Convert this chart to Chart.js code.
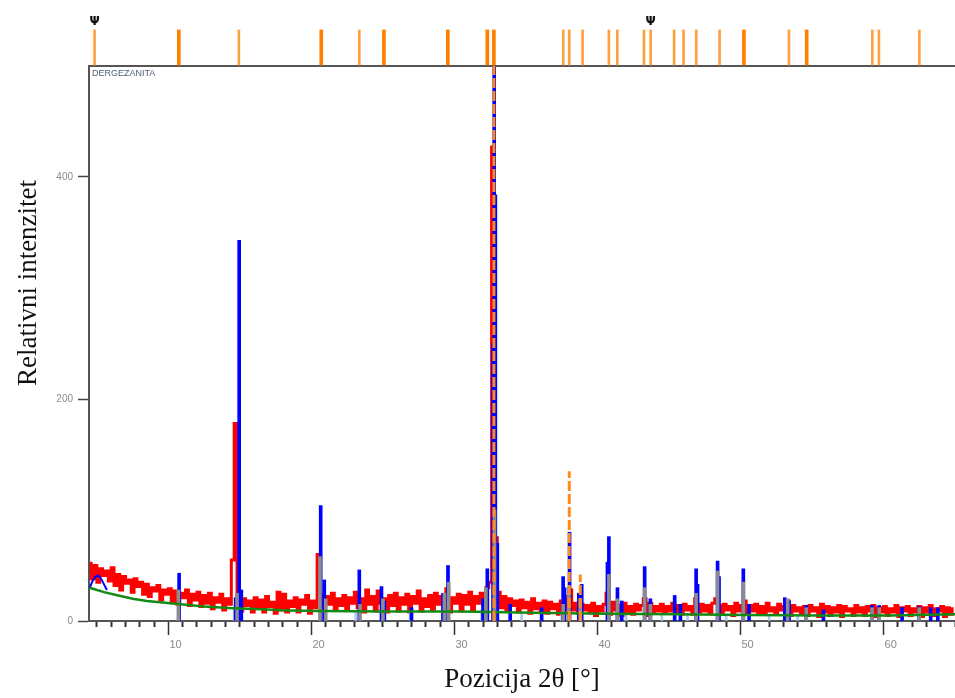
<!DOCTYPE html>
<html><head><meta charset="utf-8">
<script src="https://cdn.jsdelivr.net/npm/chart.js@4.4.1/dist/chart.umd.min.js"></script>
<style>html,body{margin:0;padding:0;background:#fff}canvas{display:block}</style>
</head><body>
<canvas id="c" width="955" height="698"></canvas>
<script>
// ---------- data ----------
const obsStart = 4.0, obsStep = 0.2;
const obsCounts = [
  52,38,50,35,47,41,45,36,48,32,
  42,28,40,34,37,26,38,31,35,24,
  33,22,30,27,32,19,28,24,29,17,
  27,15,25,21,28,14,24,19,26,13,
  23,16,25,11,21,17,24,10,20,15,
  55,178,22,9,20,14,18,8,21,12,
  19,8,22,13,17,7,26,10,24,8,
  18,13,21,8,19,15,23,7,18,12,
  60,24,10,22,15,25,11,20,14,23,
  10,21,16,26,12,20,8,28,15,22,
  9,27,16,20,8,23,14,25,9,21,
  15,24,8,22,16,27,9,20,13,23,
  10,25,15,22,12,29,8,21,16,24,
  9,23,15,26,10,22,16,25,14,30,
  35,427,75,26,12,22,9,20,14,18,
  8,19,12,17,7,20,11,16,8,18,
  7,17,11,15,6,18,10,22,28,10,
  16,7,15,10,14,8,16,5,13,9,
  15,25,6,17,10,14,5,16,8,13,
  6,15,10,14,20,5,16,8,13,9,
  15,7,13,9,16,8,14,6,15,10,
  13,6,20,8,15,9,14,7,16,20,
  14,6,15,10,13,5,16,9,14,18,
  6,14,9,15,7,13,6,16,9,12,
  7,15,10,13,18,5,14,9,12,6,
  13,5,14,9,12,4,15,8,13,5,
  12,8,14,4,13,9,11,5,14,8,
  12,5,13,9,14,4,12,8,13,5,
  11,8,14,4,12,9,13,5,11,8,
  13,4,12,8,14,5,11,9,13,4,
  12,6,11
];
const bgAngle  = [4, 5, 6, 7, 8, 10, 12, 14, 16, 18, 20, 25, 30, 35, 40, 45, 50, 55, 60, 64.5];
const bgCounts = [30, 26, 23, 20, 18, 15.5, 13, 11.5, 10.5, 9.5, 9, 8.5, 8.5, 7.5, 6.5, 6, 5.5, 5, 5, 6];
const calcHumpAngle  = [4.0, 4.2, 4.4, 4.6, 4.8, 5.0, 5.2];
const calcHumpCounts = [30, 36, 40, 41, 38, 33, 28];
const calcAngle  = [10.25,14.2,14.45,14.6,20.15,20.4,22.85,24.4,24.6,26.5,28.7,29.05,31.5,31.8,32.2,32.28,32.36,32.5,33.4,35.6,37.1,37.2,37.55,38.2,38.4,40.2,40.3,40.9,41.2,42.8,43.2,44.9,45.3,46.4,46.5,47.9,48.0,49.7,50.1,52.6,52.9,54.1,55.3,58.7,59.2,60.8,62.0,62.8,63.3];
const calcCounts = [43,21,343,28,104,37,46,31,18,12,25,50,20,47,250,500,384,70,15,12,40,30,80,25,33,53,76,30,18,49,20,23,15,47,33,54,40,47,15,21,18,14,10,14,14,12,13,12,12];
const grayAngle  = [10.2,14.3,20.1,20.5,22.9,24.5,28.8,29.1,31.7,32.3,37.1,37.5,38.3,40.3,40.9,42.8,43.2,46.4,47.9,49.7,52.8,54.1,58.7,59.2,62.0];
const grayCounts = [28,25,58,20,15,20,25,35,30,100,15,30,20,42,20,30,15,25,45,35,20,12,12,12,12];
const lightAngle  = [14.1,22.6,26.4,31.4,34.2,37.0,41.5,44.0,45.8,48.5,51.5,53.5];
const lightCounts = [12,8,8,10,8,8,6,6,6,6,6,6];
const refPeakAngle  = [32.26, 37.53, 38.3];
const refPeakCounts = [500, 135, 42];
const refStrongAngle = [10.23, 20.19, 24.57, 29.04, 31.80, 32.26, 49.74, 54.13];
const refWeakAngle   = [4.34, 14.43, 22.85, 37.11, 37.53, 38.46, 40.30, 40.89, 42.75, 43.22, 44.86, 45.52, 46.41, 48.04, 52.89, 58.72, 59.18, 62.01];
const markerAngle = [4.34, 43.22];
const xTickLabels = [10, 20, 30, 40, 50, 60];
const yTickValues = [0, 200, 400];
const phaseName = 'DERGEZANITA';
const xTitle = 'Pozicija 2θ [°]';
const yTitle = 'Relativni intenzitet';

// ---------- helpers ----------
const pairs = (xs, ys) => xs.map((x, i) => ({x, y: ys[i]}));
const segs = (xs, ys) => { const d = []; xs.forEach((x, i) => { d.push({x, y: 0}, {x, y: ys[i]}, {x, y: null}); }); return d; };
const obsData = obsCounts.map((v, i) => ({x: +(obsStart + i * obsStep).toFixed(2), y: v}));
const bar = (data, color, w, order, axis) => ({type: 'bar', data, backgroundColor: color, borderWidth: 0, barThickness: w, grouped: false, order, xAxisID: 'x', yAxisID: axis || 'y'});
const line = (data, color, w, order, extra) => Object.assign({type: 'line', data, borderColor: color, borderWidth: w, pointRadius: 0, order, xAxisID: 'x', yAxisID: 'y'}, extra || {});
const noPad = s => { s.paddingTop = 0; s.paddingBottom = 0; };

const annot = {
  id: 'annot',
  afterDraw(chart) {
    const ctx = chart.ctx, xs = chart.scales.x, yt = chart.scales.yTop, ca = chart.chartArea;
    ctx.save();
    ctx.font = '27px "Liberation Serif"'; ctx.fillStyle = '#111'; ctx.textAlign = 'center'; ctx.textBaseline = 'middle';
    ctx.translate(29, 283); ctx.rotate(-Math.PI / 2); ctx.fillText(yTitle, 0, 0);
    ctx.restore();
    ctx.save();
    ctx.font = '9px "Liberation Sans"'; ctx.fillStyle = '#4d5f7a'; ctx.textBaseline = 'top'; ctx.textAlign = 'left';
    ctx.fillText(phaseName, ca.left + 3, yt.bottom + 3);
    ctx.font = 'bold 12px "DejaVu Sans"'; ctx.fillStyle = '#111'; ctx.textAlign = 'center'; ctx.textBaseline = 'middle';
    markerAngle.forEach(a => { ctx.fillText('Ψ', xs.getPixelForValue(a), yt.getPixelForValue(1.22)); });
    ctx.restore();
  }
};

new Chart(document.getElementById('c'), {
  type: 'line',
  data: {
    datasets: [
      line(obsData, '#ff0000', 3, 6, {stepped: 'middle'}),
      bar(pairs(lightAngle, lightCounts), '#a9c9ee', 2, 5),
      bar(pairs(calcAngle, calcCounts), '#0000ff', 3, 4),
      line(pairs(calcHumpAngle, calcHumpCounts), '#0000ff', 2, 4),
      bar(pairs(grayAngle, grayCounts), '#8c8c8c', 3, 3),
      line(pairs(bgAngle, bgCounts), '#138a13', 2.5, 2),
      line(segs(refPeakAngle, refPeakCounts), '#ff8c1a', 3, 1, {borderDash: [10, 3], spanGaps: false}),
      bar(refStrongAngle.map(x => ({x, y: 1})), '#ff8000', 3, 1, 'yTop'),
      bar(refWeakAngle.map(x => ({x, y: 1})), '#ffa040', 2, 1, 'yTop')
    ]
  },
  options: {
    responsive: false, animation: false, devicePixelRatio: 1,
    layout: {padding: 0},
    plugins: {legend: {display: false}, tooltip: {enabled: false}},
    scales: {
      x: {
        type: 'linear', min: 3.95, max: 64.5, offset: false,
        afterBuildTicks: s => { const t = []; for (let v = 4; v <= 64; v++) t.push({value: v}); s.ticks = t; },
        ticks: {callback: v => xTickLabels.includes(v) ? String(v) : '', color: '#8a8a8a', font: {size: 11, family: 'Liberation Sans'}, padding: 3, maxRotation: 0, autoSkip: false},
        grid: {drawOnChartArea: false, drawTicks: true, tickLength: 14, tickColor: '#333',
               tickWidth: c => (c.tick && xTickLabels.includes(c.tick.value)) ? 1.5 : 2,
               tickBorderDash: c => (c.tick && xTickLabels.includes(c.tick.value)) ? [] : [5, 100]},
        border: {color: '#555', width: 2},
        title: {display: true, text: xTitle, font: {family: 'Liberation Serif', size: 27}, color: '#111', padding: {top: 0, bottom: 2}},
        afterFit: s => { s.height = 77; s.paddingLeft = 0; s.paddingRight = 0; }
      },
      y: {
        type: 'linear', position: 'left', stack: 'v', stackWeight: 555, min: 0, max: 500,
        afterBuildTicks: s => { s.ticks = yTickValues.map(v => ({value: v})); },
        ticks: {color: '#8a8a8a', font: {size: 10, family: 'Liberation Sans'}, padding: 5},
        grid: {drawOnChartArea: false, tickLength: 11, tickColor: '#444', tickWidth: 1.5},
        border: {color: '#555', width: 2},
        afterFit: s => { s.width = 89; noPad(s); }
      },
      yTop: {
        type: 'linear', position: 'left', stack: 'v', stackWeight: 66, min: 0, max: 1.83,
        afterBuildTicks: s => { s.ticks = [{value: 0}]; },
        ticks: {display: false},
        grid: {drawTicks: false, color: '#555', lineWidth: 2},
        border: {display: false},
        afterFit: s => { s.width = 89; noPad(s); }
      }
    }
  },
  plugins: [annot]
});
</script>
</body></html>
